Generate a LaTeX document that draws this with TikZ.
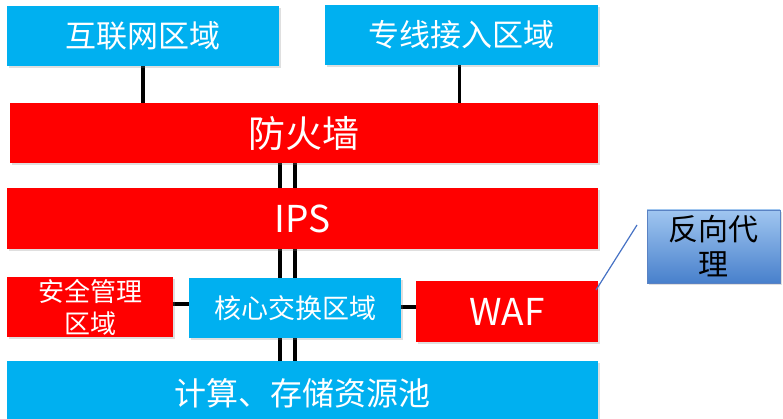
\documentclass[tikz,border=0pt]{standalone}
\usepackage{fontspec}
\setmainfont{Noto Sans CJK SC}
\usetikzlibrary{shadows,backgrounds}
\definecolor{zcyan}{RGB}{0,176,240}
\definecolor{zred}{RGB}{255,0,0}
\definecolor{ptop}{RGB}{160,198,240}
\definecolor{pbot}{RGB}{72,128,204}
\definecolor{pedge}{RGB}{90,130,195}
\definecolor{plink}{RGB}{70,114,196}
\tikzset{
  zone/.style={draw=none, inner sep=0pt, text=white, align=center,
    drop shadow={opacity=0.25, shadow xshift=2pt, shadow yshift=-2pt}},
  cyanbox/.style={zone, fill=zcyan},
  redbox/.style={zone, fill=zred},
  proxybox/.style={draw=pedge, line width=0.8pt, top color=ptop, bottom color=pbot,
    inner sep=0pt, align=center, text=black,
    drop shadow={opacity=0.25, shadow xshift=2pt, shadow yshift=-2pt}},
  link/.style={line width=3.8pt, black},
  thin link/.style={line width=1.2pt, plink},
  fs/.style 2 args={font=\fontsize{#1}{#2}\selectfont}
}
\begin{document}
\begin{tikzpicture}[x=1pt,y=-1pt]
\useasboundingbox (0,0) rectangle (783,419);
\node[cyanbox, minimum width=272pt, minimum height=60pt, fs={31}{36}] (b1) at (143,36) {互联网区域};
\node[cyanbox, minimum width=273pt, minimum height=60pt, fs={31}{36}] (b2) at (461.5,35) {专线接入区域};
\node[redbox, minimum width=588pt, minimum height=60pt, fs={37}{42}] (fw) at (304,133) {防火墙};
\node[redbox, minimum width=591pt, minimum height=61pt, fs={37}{42}] (ips) at (302.5,218.5) {IPS};
\node[redbox, minimum width=166pt, minimum height=60pt, fs={26}{32}] (sec) at (90,307) {安全管理\\区域};
\node[cyanbox, minimum width=212pt, minimum height=60pt, fs={27}{32}] (core) at (295,308) {核心交换区域};
\node[redbox, minimum width=182pt, minimum height=61pt, fs={37}{42}] (waf) at (507,311.5) {WAF};
\node[cyanbox, minimum width=591pt, minimum height=64pt, fs={32}{38}] (pool) at (302.5,393) {计算、存储资源池};
\node[proxybox, minimum width=133pt, minimum height=73pt, fs={30}{35}] (proxy) at (713.5,246.5) {反向代\\理};
\coordinate (L) at (280,0);
\coordinate (R) at (295,0);
\coordinate (p1) at (596,290);
\coordinate (p2) at (637,225);
\begin{scope}[on background layer]
\draw[link] (b1.south) -- (b1.south |- fw.north);
\draw[link] ([xshift=-2pt]b2.south) -- ([xshift=-2pt]b2.south |- fw.north);
\draw[link] (L |- fw.south) -- (L |- ips.north);
\draw[link] (R |- fw.south) -- (R |- ips.north);
\draw[link] (L |- ips.south) -- (L |- core.north);
\draw[link] (R |- ips.south) -- (R |- core.north);
\draw[link] (L |- core.south) -- (L |- pool.north);
\draw[link] (R |- core.south) -- (R |- pool.north);
\draw[link] ([yshift=3pt]sec.east) -- ([yshift=3pt]sec.east -| core.west);
\draw[link] ([yshift=1pt]core.east) -- ([yshift=1pt]core.east -| waf.west);
\end{scope}
\draw[thin link] (p1) -- (p2);
\end{tikzpicture}
\end{document}
